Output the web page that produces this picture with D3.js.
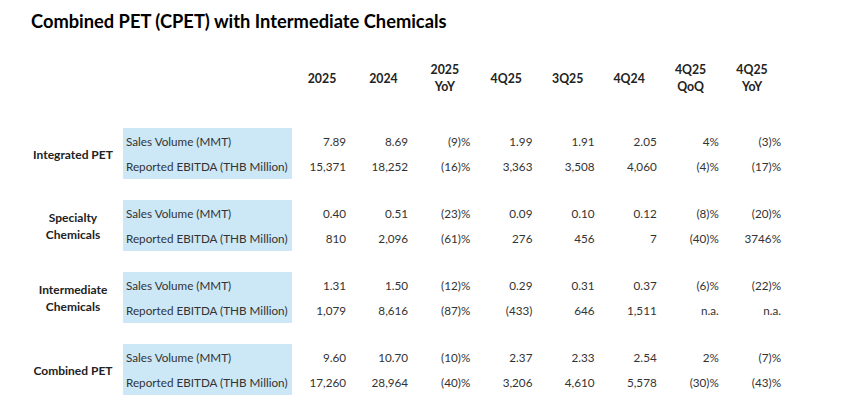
<!DOCTYPE html>
<html>
<head>
<meta charset="utf-8">
<script src="https://cdn.jsdelivr.net/npm/d3@7"></script>
<style>
  body { margin: 0; background: white; }
  text { font-family: Lato, "Open Sans", sans-serif; fill: #222; }
</style>
</head>
<body>
<div id="container"></div>
<script>
let w = 864;
let h = 410;

// DATA
let title = "Combined PET (CPET) with Intermediate Chemicals";
let columns = ["2025", "2024", "2025|YoY", "4Q25", "3Q25", "4Q24", "4Q25|QoQ", "4Q25|YoY"];
let pctColumns = ["2025|YoY", "4Q25|QoQ", "4Q25|YoY"];
let groups = ["Integrated PET", "Specialty|Chemicals", "Intermediate|Chemicals", "Combined PET"];
let metrics = ["Sales Volume (MMT)", "Reported EBITDA (THB Million)"];

let integratedVolume = [7.89, 8.69, -9, 1.99, 1.91, 2.05, 4, -3];
let integratedEbitda = [15371, 18252, -16, 3363, 3508, 4060, -4, -17];
let specialtyVolume = [0.40, 0.51, -23, 0.09, 0.10, 0.12, -8, -20];
let specialtyEbitda = [810, 2096, -61, 276, 456, 7, -40, 3746];
let intermediateVolume = [1.31, 1.50, -12, 0.29, 0.31, 0.37, -6, -22];
let intermediateEbitda = [1079, 8616, -87, -433, 646, 1511, null, null];
let combinedVolume = [9.60, 10.70, -10, 2.37, 2.33, 2.54, 2, -7];
let combinedEbitda = [17260, 28964, -40, 3206, 4610, 5578, -30, -43];

let tableData = [
  [integratedVolume, integratedEbitda],
  [specialtyVolume, specialtyEbitda],
  [intermediateVolume, intermediateEbitda],
  [combinedVolume, combinedEbitda]
];

// FORMATTERS
let fmtVol = d3.format(".2f");
let fmtMoney = d3.format(",");
function fmtCell(v, col, metricIndex) {
  if (v == null) return "n.a.";
  if (pctColumns.includes(col)) {
    return v < 0 ? "(" + Math.abs(v) + ")%" : v + "%";
  }
  if (metricIndex == 0) return fmtVol(v);
  return v < 0 ? "(" + fmtMoney(-v) + ")" : fmtMoney(v);
}

// SVG
let viz = d3.select("#container").append("svg")
    .attr("width", w)
    .attr("height", h)
    .style("background-color", "white")
;

// SCALES
let xRight = d3.scalePoint().domain(columns).range([346, 781]);
let xHead = d3.scalePoint().domain(columns).range([322, 752]);
let yGroup = d3.scalePoint().domain(groups).range([142, 358]);
let rowGap = 25;

// TITLE
viz.append("text")
    .attr("x", 31)
    .attr("y", 28)
    .style("font-size", "18.3px")
    .style("font-weight", "bold")
    .style("fill", "#000")
    .text(title)
;

// HEADERS
let heads = viz.selectAll(".head").data(columns).enter()
  .append("text")
    .attr("class", "head")
    .attr("x", d => xHead(d))
    .attr("text-anchor", "middle")
    .style("font-size", "12.3px")
    .style("font-weight", "bold")
;
heads.each(function(d) {
  let lines = d.split("|");
  let y0 = lines.length == 1 ? 83 : 74;
  d3.select(this).selectAll("tspan").data(lines).enter()
    .append("tspan")
      .attr("x", xHead(d))
      .attr("y", (l, i) => y0 + i * 16.5)
      .text(l => l);
});

// GROUPS
let g = viz.selectAll(".group").data(groups).enter()
  .append("g")
    .attr("class", "group")
    .attr("transform", d => "translate(0," + yGroup(d) + ")")
;

// blue box
g.append("rect")
    .attr("x", 123)
    .attr("y", -14)
    .attr("width", 169)
    .attr("height", rowGap + 26)
    .attr("fill", "#cce7f6")
;

// group label
g.each(function(d) {
  let lines = d.split("|");
  let mid = rowGap / 2 + 4;
  d3.select(this).append("text")
      .attr("text-anchor", "middle")
      .style("font-size", "12px")
      .style("font-weight", "bold")
    .selectAll("tspan").data(lines).enter()
    .append("tspan")
      .attr("x", 73)
      .attr("y", (l, i) => mid + (i - (lines.length - 1) / 2) * 16.5)
      .text(l => l);
});

// metric labels
g.selectAll(".metric").data(metrics).enter()
  .append("text")
    .attr("class", "metric")
    .attr("x", 126)
    .attr("y", (d, i) => i * rowGap + 4)
    .style("font-size", "11.7px")
    .style("fill", "#333")
    .text(d => d)
;

// values
g.each(function(d, gi) {
  let rows = tableData[gi];
  rows.forEach((vals, mi) => {
    d3.select(this).selectAll(".val" + mi).data(vals).enter()
      .append("text")
        .attr("class", "val" + mi)
        .attr("x", (v, ci) => xRight(columns[ci]))
        .attr("y", mi * rowGap + 4)
        .attr("text-anchor", "end")
        .style("font-size", "11.7px")
        .style("fill", "#333")
        .text((v, ci) => fmtCell(v, columns[ci], mi));
  });
});
</script>
</body>
</html>
